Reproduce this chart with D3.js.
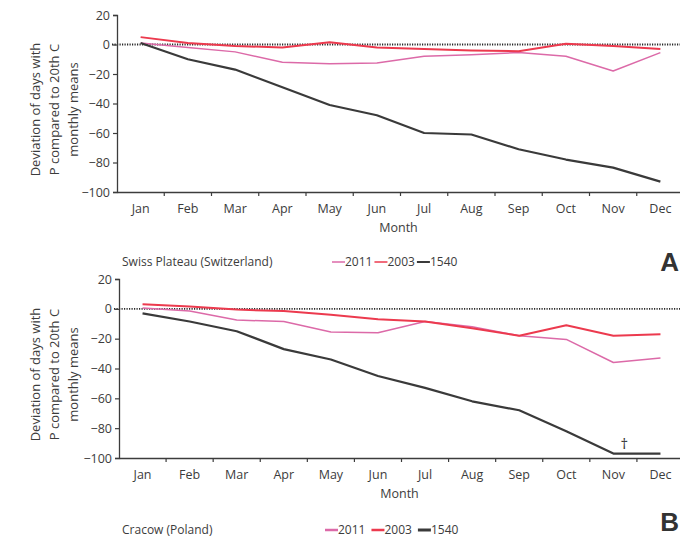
<!DOCTYPE html>
<html>
<head>
<meta charset="utf-8">
<script src="https://cdn.jsdelivr.net/npm/d3@7"></script>
<style>
  html, body { margin: 0; padding: 0; background: #fff; }
  svg { display: block; font-family: "Open Sans", "Noto Sans", sans-serif; }
</style>
</head>
<body>
<svg id="chart" width="680" height="540"></svg>
<script>
// ---- data ----
const months = ["Jan","Feb","Mar","Apr","May","Jun","Jul","Aug","Sep","Oct","Nov","Dec"];
const yTicks = [20, 0, -20, -40, -60, -80, -100];
const seriesNames = ["2011", "2003", "1540"];

const swiss2011 = [1, -2, -5, -12, -13, -12.5, -8, -7, -5.5, -8, -18, -5.5];
const swiss2003 = [5, 1, -1, -2, 1.5, -2, -3, -4, -4.5, 0.5, -1, -3];
const swiss1540 = [1, -10, -17, -29, -41, -48, -60, -61, -71, -78, -83.5, -93];

const cracow2011 = [0.5, -1.5, -7.5, -8.5, -15.5, -16, -8.5, -12, -18, -20.5, -36, -33];
const cracow2003 = [3, 1.5, -0.5, -1.5, -4, -7, -8.5, -13, -18, -11, -18, -17];
const cracow1540 = [-3, -8.5, -15, -27, -34, -45, -53, -62, -68, -82, -97, -97];

const panelTitles = ["Swiss Plateau (Switzerland)", "Cracow (Poland)"];
const panelLetters = ["A", "B"];
const yTitleLines = ["Deviation of days with", "P compared to 20th C", "monthly means"];
const xTitle = "Month";

// ---- styles ----
const colors = { "2011": "#dc6aa8", "2003": "#ec3a4e", "1540": "#3a3a3a" };
const widths = { "2011": 1.5, "2003": 2, "1540": 2.2 };
const axisColor = "#3c3c3c";
const textColor = "#3c3c3c";

const svg = d3.select("#chart");

const panels = [
  { top: 15, bottom: 192, left: 117, right: 684,
    series: { "2011": swiss2011, "2003": swiss2003, "1540": swiss1540 },
    title: panelTitles[0], letter: panelLetters[0],
    legendY: 262, titleX: 122, legendX: 332, legendThick: 1.2, letterY: 271 },
  { top: 279, bottom: 458, left: 119, right: 684,
    series: { "2011": cracow2011, "2003": cracow2003, "1540": cracow1540 },
    title: panelTitles[1], letter: panelLetters[1],
    legendY: 530, titleX: 122, legendX: 325, legendThick: 2.2, letterY: 531,
    dagger: true }
];

panels.forEach(p => {
  const x = d3.scaleBand().domain(months).range([p.left, p.right]);
  const y = d3.scaleLinear().domain([-100, 20]).range([p.bottom, p.top]);
  const g = svg.append("g");

  // zero dotted line
  g.append("line")
    .attr("x1", p.left - 5).attr("x2", 680)
    .attr("y1", y(0)).attr("y2", y(0))
    .attr("stroke", "#2a2a2a").attr("stroke-width", 1.8)
    .attr("stroke-dasharray", "1.2,1.3");

  // y axis
  const yAxis = g.append("g")
    .attr("transform", `translate(${p.left},0)`)
    .call(d3.axisLeft(y).tickValues(yTicks).tickSize(4).tickPadding(3).tickFormat(d3.format("d")));
  yAxis.select(".domain").attr("stroke", axisColor).attr("stroke-width", 1.3);
  yAxis.selectAll(".tick line").attr("stroke", axisColor).attr("stroke-width", 1.2);
  yAxis.selectAll(".tick text").attr("fill", textColor)
    .style("font-size", "12.5px").style("font-family", "'Open Sans', sans-serif");

  // x axis
  const xAxis = g.append("g")
    .attr("transform", `translate(0,${p.bottom})`)
    .call(d3.axisBottom(x).tickSize(0).tickPadding(12));
  xAxis.select(".domain").attr("stroke", axisColor).attr("stroke-width", 1.5);
  xAxis.selectAll(".tick text").attr("fill", textColor)
    .style("font-size", "12.5px").style("font-family", "'Open Sans', sans-serif");
  // band boundary ticks
  g.append("g").selectAll("line")
    .data(months.slice(1))
    .join("line")
    .attr("x1", d => x(d)).attr("x2", d => x(d))
    .attr("y1", p.bottom).attr("y2", p.bottom + 4)
    .attr("stroke", axisColor).attr("stroke-width", 1.2);

  // x title
  g.append("text")
    .attr("x", (p.left + p.right) / 2 - 2).attr("y", p.bottom + 40)
    .attr("text-anchor", "middle").attr("fill", textColor)
    .style("font-size", "12.5px").text(xTitle);

  // y title
  const yc = (p.top + p.bottom) / 2 + 6;
  const yt = g.append("text")
    .attr("transform", `translate(40,${yc}) rotate(-90)`)
    .attr("text-anchor", "middle").attr("fill", textColor)
    .style("font-size", "13px");
  yTitleLines.forEach((t, i) => {
    yt.append("tspan").attr("x", 0).attr("dy", i === 0 ? 0 : 19).text(t);
  });

  // series lines
  const line = d3.line()
    .x((d, i) => x(months[i]) + x.bandwidth() / 2)
    .y(d => y(d));
  seriesNames.forEach(name => {
    g.append("path")
      .datum(p.series[name])
      .attr("fill", "none")
      .attr("stroke", colors[name])
      .attr("stroke-width", widths[name])
      .attr("stroke-linejoin", "round")
      .attr("d", line);
  });

  if (p.dagger) {
    const s = p.series["1540"];
    g.append("text")
      .attr("x", x("Nov") + x.bandwidth() / 2 + 11)
      .attr("y", y(s[10]) - 5)
      .attr("text-anchor", "middle").attr("fill", "#333")
      .style("font-size", "15px").text("\u2020");
  }

  // panel title
  g.append("text")
    .attr("x", p.titleX).attr("y", p.legendY + 4)
    .attr("fill", textColor).style("font-size", "12px")
    .text(p.title);

  // legend
  let lx = p.legendX;
  seriesNames.forEach(name => {
    g.append("line")
      .attr("x1", lx).attr("x2", lx + 13)
      .attr("y1", p.legendY).attr("y2", p.legendY)
      .attr("stroke", colors[name])
      .attr("stroke-width", name === "1540" ? p.legendThick + 0.8 : p.legendThick + 0.3);
    const t = g.append("text")
      .attr("x", lx + 13).attr("y", p.legendY + 4)
      .attr("fill", textColor).style("font-size", "12px")
      .text(name);
    lx += 13 + t.node().getComputedTextLength() + (p.dagger ? 6 : 2);
  });

  // panel letter
  g.append("text")
    .attr("x", 679).attr("y", p.letterY)
    .attr("text-anchor", "end")
    .attr("fill", "#333").style("font-size", "26px").style("font-weight", "bold")
    .style("font-family", "'Liberation Sans', Arial, sans-serif")
    .text(p.letter);
});
</script>
</body>
</html>
